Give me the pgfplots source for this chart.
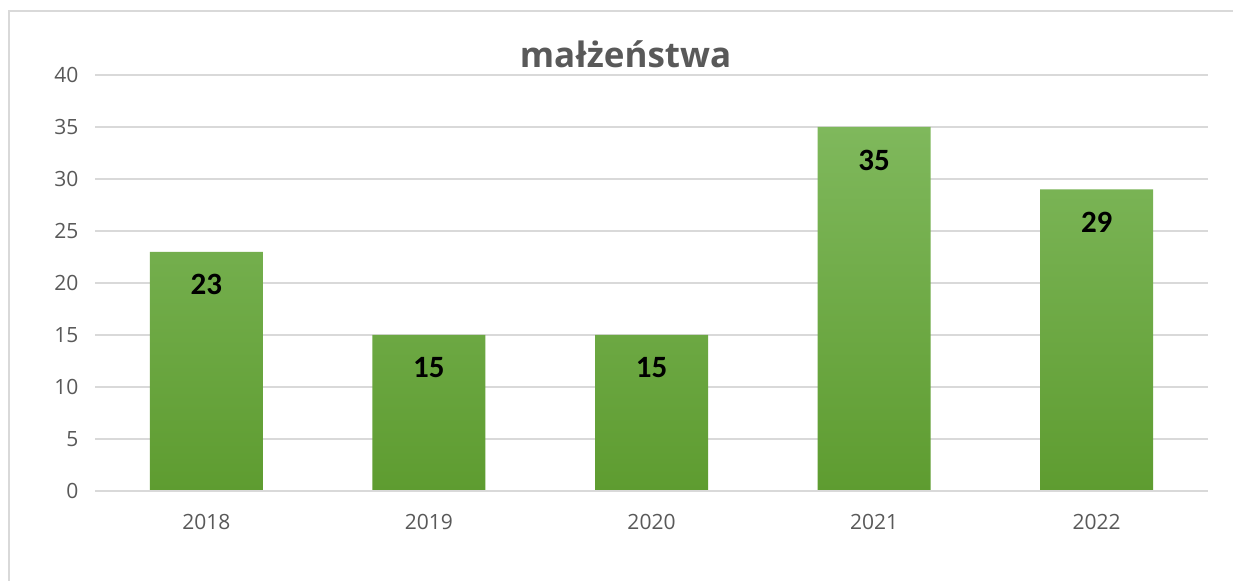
\documentclass[border=0pt]{standalone}
\usepackage{pgfplots}
\pgfplotsset{compat=1.18}
\usepackage{fontspec}
\setmainfont{Open Sans}
\newfontfamily\carlito{Carlito}
\newfontfamily\opensans{Open Sans}
\definecolor{gridc}{HTML}{D9D9D9}
\definecolor{txtc}{HTML}{595959}
\definecolor{bartop}{HTML}{7FB85C}
\definecolor{barbot}{HTML}{5E9C30}
\begin{document}
\begin{tikzpicture}
\useasboundingbox (0,0) rectangle (1233bp,581bp);
\fill[white] (0,0) rectangle (1233bp,581bp);
\draw[gridc, line width=1.5bp] (9bp,0) -- (9bp,570bp) -- (1233bp,570bp);
\begin{axis}[
  at={(95bp,90bp)}, anchor=south west,
  scale only axis, width=1113bp, height=416bp,
  xmin=-0.5, xmax=4.5, ymin=0, ymax=40,
  enlargelimits=false,
  axis line style={draw=none},
  major tick length=0pt,
  ytick={0,5,...,40},
  xtick=data,
  xticklabels={2018,2019,2020,2021,2022},
  ymajorgrids,
  grid style={gridc, line width=1.2bp},
  /pgf/number format/assume math mode=true,
  ticklabel style={font=\opensans\fontsize{21bp}{25bp}\selectfont, text=txtc},
  yticklabel style={xshift=-13bp},
  xticklabel style={yshift=-20bp},
  clip=false,
]
\addplot[ybar, bar width=113bp, draw=none, top color=bartop, bottom color=barbot,
  nodes near coords,
  every node near coord/.append style={anchor=center, yshift=-33bp, text=black,
    font=\carlito\bfseries\fontsize{31bp}{36bp}\selectfont}]
  coordinates {(0,23) (1,15) (2,15) (3,35) (4,29)};
\draw[gridc, line width=1.6bp] (axis cs:-0.5,0) -- (axis cs:4.5,0);
\end{axis}
\node[anchor=base, text=txtc, font=\opensans\bfseries\fontsize{35bp}{40bp}\selectfont] at (625.5bp,513bp) {małżeństwa};
\end{tikzpicture}
\end{document}
